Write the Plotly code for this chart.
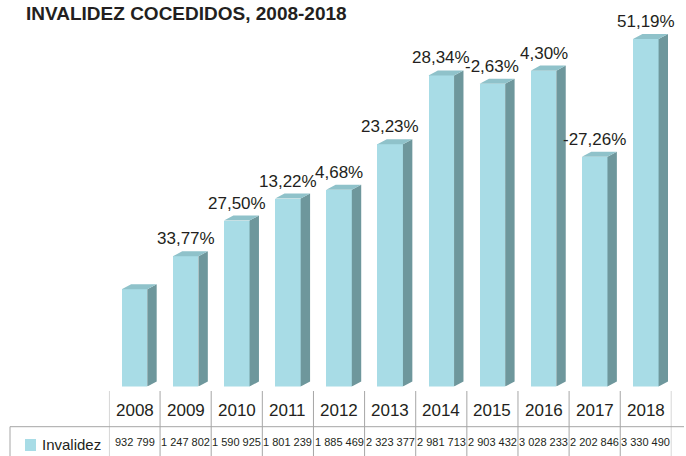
import plotly.graph_objects as go

years = ["2008", "2009", "2010", "2011", "2012", "2013", "2014", "2015", "2016", "2017", "2018"]
invalidez = [932799, 1247802, 1590925, 1801239, 1885469, 2323377, 2981713, 2903432, 3028233, 2202846, 3330490]
pct_labels = ["", "33,77%", "27,50%", "13,22%", "4,68%", "23,23%", "28,34%", "-2,63%", "4,30%", "-27,26%", "51,19%"]
series_name = "Invalidez"
title_text = "INVALIDEZ COCEDIDOS, 2008-2018"

FONT = "Liberation Sans, Arial, sans-serif"
TXT = "#231f20"
FRONT = "#a8dce6"
SIDE = "#6e979c"
TOP = "#8fc2ca"
GRID = "#a6a6a6"

W, H = 686, 456
ML, MR = 105, 2
PW = W - ML - MR

n = len(years)
xs = list(range(n))
bw = 0.5        # front face width (bar-axis units)
dx = 0.184      # depth in bar-axis units
dy = 48000      # depth in y units

def fmt(v):
    return f"{v:,}".replace(",", " ")

def py(pix):
    return (H - pix) / H

def px(pix):
    return (pix - ML) / PW

fig = go.Figure()

# front faces
fig.add_trace(go.Bar(
    x=xs, y=invalidez, width=bw,
    marker=dict(color=FRONT, line=dict(width=0)),
    hoverinfo="skip", showlegend=False,
))

# side and top faces derived from the values
sx, sy, tx, ty = [], [], [], []
for i, v in zip(xs, invalidez):
    xl = i - bw / 2
    xr = i + bw / 2
    sx += [xr, xr + dx, xr + dx, xr, xr, None]
    sy += [0, dy, v + dy, v, 0, None]
    tx += [xl, xl + dx, xr + dx, xr, xl, None]
    ty += [v, v + dy, v + dy, v, v, None]

fig.add_trace(go.Scatter(x=sx, y=sy, fill="toself", fillcolor=SIDE, mode="lines",
                         line=dict(width=0, color=SIDE), hoverinfo="skip", showlegend=False))
fig.add_trace(go.Scatter(x=tx, y=ty, fill="toself", fillcolor=TOP, mode="lines",
                         line=dict(width=0, color=TOP), hoverinfo="skip", showlegend=False))

ann = []
for i, (v, lab) in enumerate(zip(invalidez, pct_labels)):
    if lab:
        ann.append(dict(x=i, y=v, xref="x", yref="y", text=lab, showarrow=False,
                        xanchor="center", yanchor="bottom", yshift=6,
                        font=dict(family=FONT, size=17, color=TXT)))

# table: years row and values row (on the table axis x2)
for i, (yr, v) in enumerate(zip(years, invalidez)):
    ann.append(dict(x=i, y=py(410), xref="x2", yref="paper", text=yr, showarrow=False,
                    xanchor="center", yanchor="middle",
                    font=dict(family=FONT, size=17, color=TXT)))
    ann.append(dict(x=i, y=py(442), xref="x2", yref="paper", text=fmt(v), showarrow=False,
                    xanchor="center", yanchor="middle",
                    font=dict(family=FONT, size=11, color=TXT)))

ann.append(dict(x=px(40), y=py(444), xref="paper", yref="paper", text=series_name,
                showarrow=False, xanchor="left", yanchor="middle",
                font=dict(family=FONT, size=15, color=TXT)))

ann.append(dict(x=px(24), y=py(13), xref="paper", yref="paper", text="<b>" + title_text + "</b>",
                showarrow=False, xanchor="left", yanchor="middle",
                font=dict(family=FONT, size=19, color=TXT)))

shapes = []
for k in range(n + 1):
    shapes.append(dict(type="line", xref="x2", yref="paper", x0=k - 0.5, x1=k - 0.5,
                       y0=py(391), y1=0, line=dict(color=GRID, width=1)))
shapes.append(dict(type="line", xref="paper", yref="paper", x0=px(10), x1=1,
                   y0=py(426.7), y1=py(426.7), line=dict(color=GRID, width=1)))
shapes.append(dict(type="line", xref="paper", yref="paper", x0=px(10), x1=px(10),
                   y0=py(426.7), y1=0, line=dict(color=GRID, width=1)))
shapes.append(dict(type="rect", xref="paper", yref="paper", x0=px(25), x1=px(36),
                   y0=py(451), y1=py(439), fillcolor=FRONT, line=dict(width=0)))

y_zero_pix = 386.5
px_per_unit = 347.4 / invalidez[-1]
ymax = y_zero_pix / px_per_unit

bar_step = 51.13
bar_first = 134.5
bar_lo = bar_first - bar_step / 2
bar_hi = bar_first + bar_step * (n - 0.5)

fig.update_layout(
    width=W, height=H,
    margin=dict(l=ML, r=MR, t=0, b=0),
    paper_bgcolor="white", plot_bgcolor="white",
    xaxis=dict(range=[-0.5, n - 0.5], domain=[px(bar_lo), px(bar_hi)],
               visible=False, fixedrange=True),
    xaxis2=dict(range=[-0.5, n - 0.5], domain=[0, 1], overlaying="x",
                visible=False, fixedrange=True),
    yaxis=dict(range=[0, ymax], domain=[py(y_zero_pix), 1], visible=False, fixedrange=True),
    annotations=ann, shapes=shapes,
    bargap=0, showlegend=False,
)

fig.write_html("out.html", config={"displayModeBar": False},
               post_script="document.body.style.margin='0';document.body.style.overflow='hidden';")
